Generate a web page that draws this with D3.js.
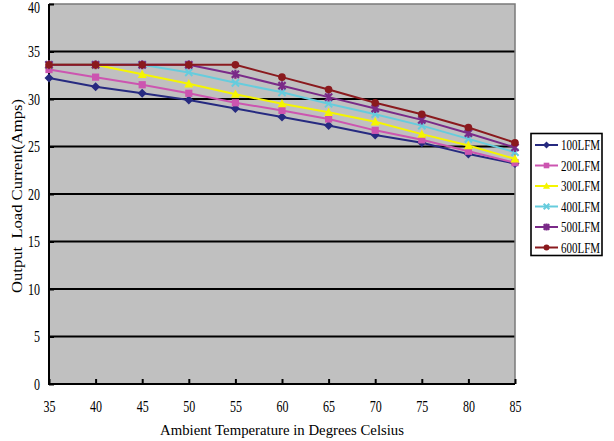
<!DOCTYPE html>
<html>
<head>
<meta charset="utf-8">
<script src="https://cdn.jsdelivr.net/npm/d3@7"></script>
<style>
  html, body { margin: 0; padding: 0; background: #ffffff; }
  svg { display: block; }
  text { font-family: "Liberation Serif", serif; fill: #000; }
</style>
</head>
<body>
<svg id="chart" width="614" height="441"></svg>
<script>
const temps = [35, 40, 45, 50, 55, 60, 65, 70, 75, 80, 85];
const yTicks = [0, 5, 10, 15, 20, 25, 30, 35, 40];
const seriesNames = ["100LFM", "200LFM", "300LFM", "400LFM", "500LFM", "600LFM"];
const s100 = [32.2, 31.3, 30.6, 29.9, 29.0, 28.1, 27.2, 26.2, 25.4, 24.2, 23.2];
const s200 = [33.1, 32.3, 31.5, 30.6, 29.6, 28.8, 27.9, 26.7, 25.7, 24.5, 23.3];
const s300 = [33.6, 33.6, 32.6, 31.6, 30.5, 29.5, 28.6, 27.6, 26.3, 25.1, 23.7];
const s400 = [33.6, 33.6, 33.6, 32.8, 31.7, 30.7, 29.5, 28.4, 27.2, 25.8, 24.4];
const s500 = [33.6, 33.6, 33.6, 33.6, 32.6, 31.4, 30.2, 29.0, 27.8, 26.4, 24.9];
const s600 = [33.6, 33.6, 33.6, 33.6, 33.6, 32.3, 31.0, 29.6, 28.4, 27.0, 25.4];
const seriesValues = [s100, s200, s300, s400, s500, s600];
const colors = ["#262a80", "#cc55b0", "#f5f500", "#66ccdd", "#7a2a88", "#8a1a1e"];
const markerTypes = ["diamond", "square", "triangle", "x", "asterisk", "circle"];

const xTitle = "Ambient Temperature in Degrees Celsius";
const yTitle = "Output  Load Current(Amps)";

const svg = d3.select("#chart");
const L = 49, R = 515, T = 4, B = 384;

const x = d3.scaleLinear().domain([35, 85]).range([L, R]);
const y = d3.scaleLinear().domain([0, 40]).range([B, T]);

// plot background
svg.append("rect").attr("x", L).attr("y", T).attr("width", R - L).attr("height", B - T)
  .attr("fill", "#c0c0c0");

// gridlines
svg.append("g").selectAll("line").data(yTicks.filter(d => d > 0 && d < 40)).join("line")
  .attr("x1", L).attr("x2", R).attr("y1", d => y(d)).attr("y2", d => y(d))
  .attr("stroke", "#000").attr("stroke-width", 2);

// frame top/right
svg.append("path").attr("d", `M${L},${T}H${R}V${B}`).attr("fill", "none")
  .attr("stroke", "#7a7a7a").attr("stroke-width", 1.5);

// x axis
const xAxis = d3.axisBottom(x).tickValues(temps).tickSize(-5).tickPadding(17).tickFormat(d3.format("d"));
const gx = svg.append("g").attr("transform", `translate(0,${B})`).call(xAxis);
gx.select(".domain").attr("stroke", "#000").attr("stroke-width", 2).attr("d", `M${L},0H${R}`);
gx.selectAll(".tick line").attr("stroke", "#000").attr("stroke-width", 2);
gx.selectAll(".tick text").attr("font-size", 16).attr("font-family", "Liberation Serif")
  .attr("textLength", 12).attr("lengthAdjust", "spacingAndGlyphs");

// y axis
const yAxis = d3.axisLeft(y).tickValues(yTicks).tickSize(-5).tickPadding(9).tickFormat(d3.format("d"));
const gy = svg.append("g").attr("transform", `translate(${L},0)`).call(yAxis);
gy.select(".domain").attr("stroke", "#000").attr("stroke-width", 2).attr("d", `M0,${T}V${B + 1}`);
gy.selectAll(".tick line").attr("stroke", "#000").attr("stroke-width", 2);
gy.selectAll(".tick text").attr("font-size", 16).attr("font-family", "Liberation Serif")
  .attr("textLength", d => d >= 10 ? 12 : 6).attr("lengthAdjust", "spacingAndGlyphs")
  .attr("y", d => d === 40 ? 3 : 0);

// axis titles
svg.append("text").attr("x", (L + R) / 2).attr("y", 435).attr("text-anchor", "middle")
  .attr("font-size", 14).attr("textLength", 244).attr("lengthAdjust", "spacingAndGlyphs")
  .text(xTitle);
svg.append("text").attr("transform", `translate(22,${(T + B) / 2 + 2}) rotate(-90)`)
  .attr("text-anchor", "middle").attr("font-size", 14)
  .style("white-space", "pre")
  .attr("textLength", 194).attr("lengthAdjust", "spacingAndGlyphs")
  .text(yTitle);

// marker drawing
function drawMarker(g, type, color, size) {
  const s = size;
  if (type === "diamond") {
    g.append("path").attr("d", `M0,${-s}L${s},0L0,${s}L${-s},0Z`).attr("fill", color);
  } else if (type === "square") {
    g.append("rect").attr("x", -s * 0.8).attr("y", -s * 0.8).attr("width", s * 1.6).attr("height", s * 1.6).attr("fill", color);
  } else if (type === "triangle") {
    g.append("path").attr("d", `M0,${-s * 1.05}L${s},${s * 0.8}L${-s},${s * 0.8}Z`).attr("fill", color);
  } else if (type === "x") {
    const a = s * 0.8;
    g.append("path").attr("d", `M${-a},${-a}L${a},${a}M${-a},${a}L${a},${-a}`)
      .attr("stroke", color).attr("stroke-width", 2);
  } else if (type === "asterisk") {
    const a = s * 0.8;
    g.append("path").attr("d", `M${-a},${-a}L${a},${a}M${-a},${a}L${a},${-a}M0,${-s}V${s}`)
      .attr("stroke", color).attr("stroke-width", 2.2);
  } else if (type === "circle") {
    g.append("circle").attr("r", s * 0.85).attr("fill", color);
  }
}

const line = d3.line().x((d, i) => x(temps[i])).y(d => y(d));

seriesValues.forEach((vals, si) => {
  const g = svg.append("g");
  g.append("path").datum(vals).attr("d", line).attr("fill", "none")
    .attr("stroke", colors[si]).attr("stroke-width", 2);
  vals.forEach((v, i) => {
    const mg = g.append("g").attr("transform", `translate(${x(temps[i])},${y(v)})`);
    drawMarker(mg, markerTypes[si], colors[si], 4.5);
  });
});

// legend
const lg = svg.append("g");
lg.append("rect").attr("x", 531).attr("y", 133.5).attr("width", 71).attr("height", 122)
  .attr("fill", "#fff").attr("stroke", "#000").attr("stroke-width", 1.6);
const legendYs = seriesNames.map((n, i) => 145 + i * 20.5);
seriesNames.forEach((name, i) => {
  const ly = legendYs[i];
  lg.append("line").attr("x1", 535).attr("x2", 558).attr("y1", ly).attr("y2", ly)
    .attr("stroke", colors[i]).attr("stroke-width", 2);
  const mg = lg.append("g").attr("transform", `translate(546.5,${ly})`);
  drawMarker(mg, markerTypes[i], colors[i], 3.5);
  lg.append("text").attr("x", 561).attr("y", ly + 5).attr("font-size", 14)
    .attr("textLength", 39).attr("lengthAdjust", "spacingAndGlyphs").text(name);
});
</script>
</body>
</html>
